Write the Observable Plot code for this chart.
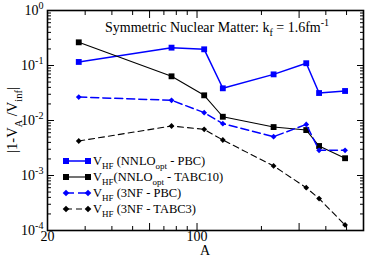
<!DOCTYPE html>
<html><head><meta charset="utf-8">
<script src="https://cdn.jsdelivr.net/npm/d3@7"></script>
<script src="https://cdn.jsdelivr.net/npm/@observablehq/plot@0.6"></script>
<style>body{margin:0;background:#fff} svg text{font-family:'Liberation Serif','DejaVu Serif',serif !important;}</style>
</head><body><div id="chart"></div>
<script>
// ---- data ----
const A = [28, 76, 108, 132, 228, 324, 372, 492];
const nnloPBC    = [0.116, 0.211, 0.197, 0.0385, 0.069, 0.11, 0.0316, 0.0344];
const nnloTABC10 = [0.264, 0.0636, 0.0287, 0.0117, 0.0076, 0.0067, 0.00344, 0.00206];
const nf3PBC     = [0.0267, 0.0233, 0.0139, 0.00875, 0.00508, 0.0085, 0.00287, 0.00287];
const nf3TABC3   = [0.00424, 0.00794, 0.0069, 0.00442, 0.00149, 0.0006, 0.00038, 0.000126];
const seriesKeys = ["nnloPBC", "nnloTABC10", "nf3PBC", "nf3TABC3"];
const seriesValues = [nnloPBC, nnloTABC10, nf3PBC, nf3TABC3];
const legendLabels = [
  [["V"],["HF","sub"],[" (NNLO"],["opt","sub"],[" - PBC)"]],
  [["V"],["HF","sub"],["(NNLO"],["opt","sub"],[" - TABC10)"]],
  [["V"],["HF","sub"],[" (3NF - PBC)"]],
  [["V"],["HF","sub"],[" (3NF - TABC3)"]]
];
const titleParts = [["Symmetric Nuclear Matter: k"],["f","sub"],[" = 1.6fm"],["-1","sup"]];
const yLabelParts = [["|1-V"],["A","sub"],[" /V"],["inf","sub"],["|"]];
const xLabel = "A";
const xTickLabels = [20, 60, 100, 300, 600];
const xMinorTicks = [30, 40, 50, 70, 80, 90, 200, 400, 500];
const yTickLabels = [1e-4, 1e-3, 1e-2, 1e-1, 1];
const yMinorTicks = [1e-4, 1e-3, 1e-2, 1e-1].flatMap(b => [2,3,4,5,6,7,8,9].map(m => +(b*m).toPrecision(3)));

// ---- styles ----
const styles = {
  nnloPBC:    {color: "#0000ff", width: 1.5, dash: null,  symbol: "square",   r: 3.3},
  nnloTABC10: {color: "#000000", width: 1.1, dash: null,  symbol: "square",   r: 3.3},
  nf3PBC:     {color: "#0000ff", width: 1.5, dash: "8,4", symbol: "diamond2", r: 2.6},
  nf3TABC3:   {color: "#000000", width: 1.1, dash: "6,4", symbol: "diamond2", r: 2.6}
};

const rows = seriesKeys.flatMap((k, i) => A.map((a, j) => ({series: k, A: a, v: seriesValues[i][j]})));

const W = 374, H = 257, mL = 47, mR = 11, mT = 10, mB = 27;
const FONT = "'Liberation Serif', 'DejaVu Serif', serif";

const marks = [
  Plot.axisX(xTickLabels, {anchor: "bottom", tickSize: 0, tickPadding: 1, label: null, tickFormat: d => String(d)}),
  Plot.axisX(xTickLabels, {anchor: "bottom", tickSize: -7, label: null, tickFormat: () => ""}),
  Plot.axisX(xMinorTicks, {anchor: "bottom", tickSize: -4, label: null, tickFormat: () => ""}),
  Plot.axisX(xTickLabels, {anchor: "top", tickSize: -7, label: null, tickFormat: () => ""}),
  Plot.axisX(xMinorTicks, {anchor: "top", tickSize: -4, label: null, tickFormat: () => ""}),
  Plot.axisY(yTickLabels, {anchor: "left", tickSize: 0, tickPadding: 4, label: null, tickFormat: d => "10^" + Math.round(Math.log10(d))}),
  Plot.axisY(yTickLabels, {anchor: "left", tickSize: -7, label: null, tickFormat: () => ""}),
  Plot.axisY(yMinorTicks, {anchor: "left", tickSize: -4, label: null, tickFormat: () => ""}),
  Plot.axisY(yTickLabels, {anchor: "right", tickSize: -7, label: null, tickFormat: () => ""}),
  Plot.axisY(yMinorTicks, {anchor: "right", tickSize: -4, label: null, tickFormat: () => ""})
];
for (const k of seriesKeys) {
  const s = styles[k];
  const d = rows.filter(r => r.series === k);
  marks.push(Plot.line(d, {x: "A", y: "v", stroke: s.color, strokeWidth: s.width, strokeDasharray: s.dash}));
  marks.push(Plot.dot(d, {x: "A", y: "v", symbol: () => s.symbol, fill: s.color, stroke: "none", r: s.r}));
}
marks.push(Plot.frame({stroke: "black", strokeWidth: 1.6}));

const svgEl = Plot.plot({
  width: W, height: H, marginLeft: mL, marginRight: mR, marginTop: mT, marginBottom: mB,
  style: {fontFamily: FONT, fontSize: "14px", background: "white", color: "black", overflow: "visible"},
  x: {type: "log", domain: [20, 600]},
  y: {type: "log", domain: [1e-4, 1]},
  symbol: {type: "identity"},
  marks
});
document.getElementById("chart").appendChild(svgEl);
const svg = d3.select(svgEl);

function richText(sel, parts, size) {
  let shift = 0;
  for (const [t, kind] of parts) {
    const ts = sel.append("tspan").text(t);
    const target = kind === "sub" ? size * 0.32 : kind === "sup" ? -size * 0.45 : 0;
    if (target - shift !== 0) ts.attr("dy", target - shift);
    shift = target;
    if (kind) ts.attr("font-size", size * 0.72);
  }
}

// y tick labels with superscripts
svg.selectAll('g[aria-label="y-axis tick label"] text').each(function() {
  const t = d3.select(this);
  const s = t.text();
  if (!s.includes("^")) return;
  const [b, e] = s.split("^");
  t.text("");
  richText(t, [[b], [e, "sup"]], 14);
});

// title
richText(svg.append("text").attr("x", 105).attr("y", 32).attr("text-anchor", "start")
  .attr("font-family", FONT).attr("font-size", 14).attr("fill", "black"), titleParts, 14);

// x label
svg.append("text").attr("x", (mL + W - mR) / 2).attr("y", 255).attr("text-anchor", "middle")
  .attr("font-family", FONT).attr("font-size", 14).text(xLabel);

// y label
richText(svg.append("text").attr("transform", `translate(17,${(mT + H - mB) / 2}) rotate(-90)`)
  .attr("text-anchor", "middle").attr("font-family", FONT).attr("font-size", 14.5), yLabelParts, 14.5);

// legend
const lg = svg.append("g").attr("font-family", FONT).attr("font-size", 12.5).attr("text-anchor", "start");
seriesKeys.forEach((k, i) => {
  const s = styles[k];
  const cy = 161 + i * 16;
  lg.append("line").attr("x1", 66).attr("x2", 88).attr("y1", cy).attr("y2", cy)
    .attr("stroke", s.color).attr("stroke-width", s.width).attr("stroke-dasharray", s.dash);
  [66, 88].forEach(cx => {
    if (s.symbol === "square") {
      lg.append("rect").attr("x", cx - 3).attr("y", cy - 3).attr("width", 6).attr("height", 6).attr("fill", s.color);
    } else {
      lg.append("path").attr("d", `M${cx},${cy-3.3}L${cx+3.3},${cy}L${cx},${cy+3.3}L${cx-3.3},${cy}Z`).attr("fill", s.color);
    }
  });
  richText(lg.append("text").attr("x", 93).attr("y", cy + 4), legendLabels[i], 12.5);
});
</script>
</body></html>
